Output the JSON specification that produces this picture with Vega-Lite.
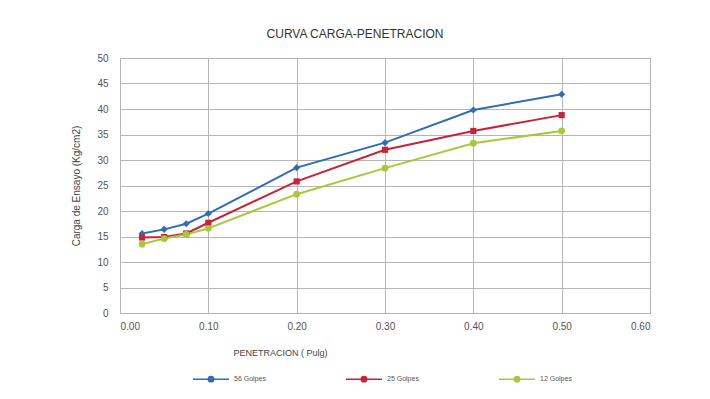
{
  "$schema": "https://vega.github.io/schema/vega-lite/v6.json",
  "width": 530,
  "height": 255,
  "autosize": {"type": "none"},
  "padding": {"left": 120, "top": 58, "right": 60, "bottom": 86},
  "background": "white",
  "title": {
    "text": "CURVA CARGA-PENETRACION",
    "anchor": "middle",
    "frame": "group",
    "dx": -30,
    "offset": 12,
    "fontSize": 12,
    "font": "Liberation Sans",
    "fontWeight": "normal",
    "color": "#333333"
  },
  "config": {
    "view": {"stroke": "#9a9a9a", "strokeWidth": 1},
    "axis": {"labelFont": "Liberation Sans", "titleFont": "Liberation Sans", "labelColor": "#555555", "titleColor": "#444444", "gridColor": "#b5b5b5", "gridOpacity": 1, "domain": false, "ticks": false, "labelFontSize": 10, "titleFontSize": 10, "titleFontWeight": "normal"},
    "legend": {"labelFont": "Liberation Sans"}
  },
  "data": {
    "values": [
      {"pen": 0.025, "carga": 15.6, "serie": "56 Golpes"},
      {"pen": 0.05, "carga": 16.4, "serie": "56 Golpes"},
      {"pen": 0.075, "carga": 17.5, "serie": "56 Golpes"},
      {"pen": 0.1, "carga": 19.5, "serie": "56 Golpes"},
      {"pen": 0.2, "carga": 28.5, "serie": "56 Golpes"},
      {"pen": 0.3, "carga": 33.4, "serie": "56 Golpes"},
      {"pen": 0.4, "carga": 39.8, "serie": "56 Golpes"},
      {"pen": 0.5, "carga": 42.9, "serie": "56 Golpes"},
      {"pen": 0.025, "carga": 14.8, "serie": "25 Golpes"},
      {"pen": 0.05, "carga": 14.9, "serie": "25 Golpes"},
      {"pen": 0.075, "carga": 15.6, "serie": "25 Golpes"},
      {"pen": 0.1, "carga": 17.7, "serie": "25 Golpes"},
      {"pen": 0.2, "carga": 25.8, "serie": "25 Golpes"},
      {"pen": 0.3, "carga": 32.0, "serie": "25 Golpes"},
      {"pen": 0.4, "carga": 35.7, "serie": "25 Golpes"},
      {"pen": 0.5, "carga": 38.8, "serie": "25 Golpes"},
      {"pen": 0.025, "carga": 13.5, "serie": "12 Golpes"},
      {"pen": 0.05, "carga": 14.6, "serie": "12 Golpes"},
      {"pen": 0.075, "carga": 15.4, "serie": "12 Golpes"},
      {"pen": 0.1, "carga": 16.6, "serie": "12 Golpes"},
      {"pen": 0.2, "carga": 23.3, "serie": "12 Golpes"},
      {"pen": 0.3, "carga": 28.4, "serie": "12 Golpes"},
      {"pen": 0.4, "carga": 33.3, "serie": "12 Golpes"},
      {"pen": 0.5, "carga": 35.7, "serie": "12 Golpes"}
    ]
  },
  "encoding": {
    "x": {
      "field": "pen", "type": "quantitative",
      "scale": {"domain": [0, 0.6], "nice": false, "zero": true},
      "axis": {"values": [0, 0.1, 0.2, 0.3, 0.4, 0.5, 0.6], "format": ".2f", "title": "PENETRACION ( Pulg)", "labelPadding": 8, "titleX": 160, "titleY": 35, "titleAnchor": "middle", "titleFontSize": 9}
    },
    "y": {
      "field": "carga", "type": "quantitative",
      "scale": {"domain": [0, 50], "nice": false},
      "axis": {"values": [0, 5, 10, 15, 20, 25, 30, 35, 40, 45, 50], "title": "Carga de Ensayo (Kg/cm2)", "labelPadding": 12, "titlePadding": 15, "titleFontSize": 10}
    },
    "color": {
      "field": "serie", "type": "nominal",
      "scale": {"domain": ["56 Golpes", "25 Golpes", "12 Golpes"], "range": ["#2f6db5", "#c8233a", "#a6c83a"]},
      "legend": {
        "title": null,
        "orient": "none",
        "legendX": 72,
        "legendY": 302,
        "direction": "horizontal",
        "columns": 3,
        "gridAlign": "all",
        "columnPadding": 76,
        "labelFontSize": 7,
        "labelColor": "#555555",
        "symbolType": "M-1,0L1,0M-0.15,0a0.15,0.15 0 1,0 0.3,0a0.15,0.15 0 1,0 -0.3,0",
        "symbolSize": 1300,
        "symbolStrokeWidth": 1.5,
        "labelOffset": 4,
        "encode": {"symbols": {"update": {
          "fill": {"scale": "color", "field": "value"},
          "stroke": {"scale": "color", "field": "value"},
          "opacity": {"value": 1}
        }}}
      }
    }
  },
  "layer": [
    {"mark": {"type": "line", "strokeWidth": 2}},
    {
      "transform": [{"filter": "datum.serie == '56 Golpes'"}],
      "mark": {"type": "point", "filled": true, "size": 50, "opacity": 1, "shape": "diamond"}
    },
    {
      "transform": [{"filter": "datum.serie == '25 Golpes'"}],
      "mark": {"type": "point", "filled": true, "size": 38, "opacity": 1, "shape": "square"}
    },
    {
      "transform": [{"filter": "datum.serie == '12 Golpes'"}],
      "mark": {"type": "point", "filled": true, "size": 45, "opacity": 1, "shape": "circle"}
    }
  ]
}
